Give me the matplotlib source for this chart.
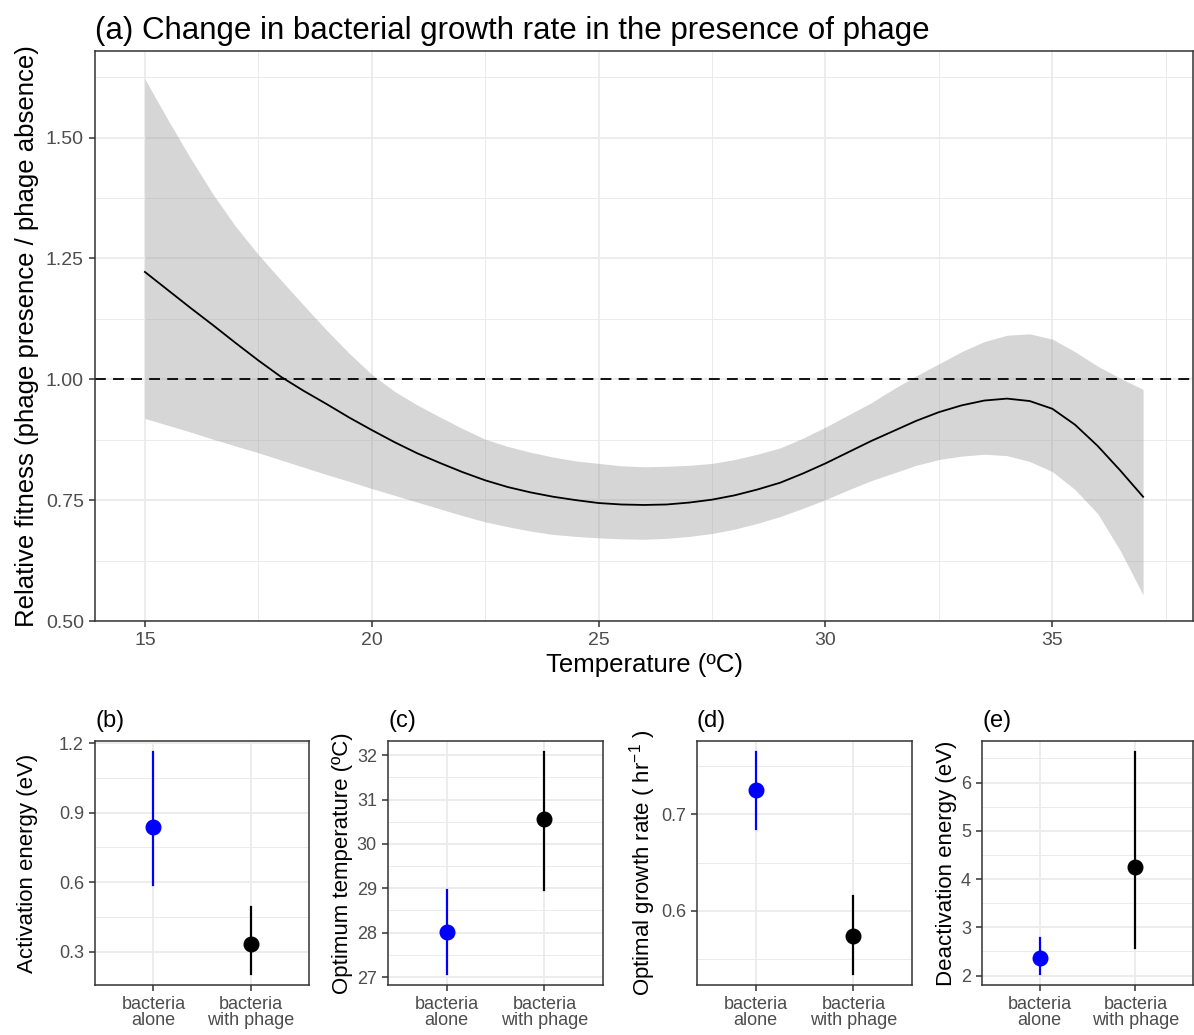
import numpy as np
import matplotlib
matplotlib.use("Agg")
import matplotlib.pyplot as plt
from matplotlib.ticker import FixedLocator

plt.rcParams['font.family'] = ['Liberation Sans', 'DejaVu Sans']
plt.rcParams['mathtext.fontset'] = 'custom'
plt.rcParams['mathtext.rm'] = 'Liberation Sans'
plt.rcParams['mathtext.it'] = 'Liberation Sans:italic'

# ---- panel (a): fitted relative fitness with confidence band ----
temp = [15, 15.5, 16, 16.5, 17, 17.5, 18, 18.5, 19, 19.5, 20, 20.5, 21, 21.5,
        22, 22.5, 23, 23.5, 24, 24.5, 25, 25.5, 26, 26.5, 27, 27.5, 28, 28.5,
        29, 29.5, 30, 30.5, 31, 31.5, 32, 32.5, 33, 33.5, 34, 34.5, 35, 35.5,
        36, 36.5, 37]
fit = [1.222, 1.185, 1.148, 1.112, 1.075, 1.039, 1.005, 0.976, 0.949, 0.921,
       0.895, 0.870, 0.847, 0.827, 0.808, 0.791, 0.777, 0.766, 0.757, 0.750,
       0.744, 0.741, 0.740, 0.741, 0.745, 0.751, 0.760, 0.772, 0.786, 0.805,
       0.826, 0.849, 0.872, 0.893, 0.914, 0.932, 0.946, 0.956, 0.960, 0.955,
       0.939, 0.906, 0.862, 0.811, 0.757]
upper = [1.621, 1.538, 1.458, 1.383, 1.316, 1.258, 1.205, 1.153, 1.102, 1.054,
         1.010, 0.975, 0.947, 0.922, 0.898, 0.876, 0.861, 0.849, 0.839, 0.831,
         0.826, 0.821, 0.819, 0.820, 0.822, 0.826, 0.834, 0.845, 0.858, 0.878,
         0.901, 0.926, 0.951, 0.980, 1.007, 1.032, 1.057, 1.078, 1.091, 1.094,
         1.083, 1.057, 1.027, 1.002, 0.979]
lower = [0.919, 0.905, 0.891, 0.876, 0.862, 0.848, 0.833, 0.818, 0.803, 0.789,
         0.774, 0.760, 0.746, 0.732, 0.718, 0.705, 0.695, 0.686, 0.679, 0.675,
         0.672, 0.670, 0.669, 0.671, 0.675, 0.681, 0.690, 0.702, 0.716, 0.733,
         0.751, 0.771, 0.790, 0.806, 0.822, 0.834, 0.841, 0.845, 0.842, 0.830,
         0.809, 0.772, 0.722, 0.645, 0.554]

# ---- panels (b)-(e): parameter estimates with intervals ----
groups = ['bacteria\nalone', 'bacteria\nwith phage']
group_colors = ['#0000FF', 'black']
act_energy = [0.84, 0.332]
act_lo = [0.59, 0.205]
act_hi = [1.161, 0.495]
topt = [28.02, 30.57]
topt_lo = [27.07, 28.96]
topt_hi = [28.97, 32.07]
rmax = [0.7245, 0.5745]
rmax_lo = [0.685, 0.535]
rmax_hi = [0.764, 0.6158]
deact = [2.36, 4.25]
deact_lo = [2.035, 2.58]
deact_hi = [2.775, 6.63]

W, H = 1194, 1035
fig = plt.figure(figsize=(W / 100, H / 100), dpi=100)


def px_axes(left, top, right, bottom):
    return fig.add_axes([left / W, 1 - bottom / H, (right - left) / W, (bottom - top) / H])


def style(ax, tick_size):
    for s in ax.spines.values():
        s.set_color('#333333')
        s.set_linewidth(1.1)
    ax.tick_params(axis='both', colors='#333333', labelcolor='#4D4D4D',
                   length=4.5, width=1.1, labelsize=tick_size)
    ax.tick_params(which='minor', length=0)
    ax.grid(which='major', color='#EBEBEB', linewidth=1.3)
    ax.grid(which='minor', color='#EBEBEB', linewidth=0.7)
    ax.set_axisbelow(True)


# panel (a)
ax = px_axes(95, 51, 1193, 621)
style(ax, 14)
ax.fill_between(temp, lower, upper, color='#999999', alpha=0.4, linewidth=0)
ax.plot(temp, fit, color='black', linewidth=1.3)
ax.axhline(1.0, color='black', linewidth=1.3, linestyle=(0, (6, 4)))
ax.set_xlim(13.9, 38.1)
ax.set_ylim(0.5, 1.679)
ax.set_xticks([15, 20, 25, 30, 35])
ax.set_yticks([0.5, 0.75, 1.0, 1.25, 1.5])
ax.set_yticklabels(['0.50', '0.75', '1.00', '1.25', '1.50'])
ax.xaxis.set_minor_locator(FixedLocator([17.5, 22.5, 27.5, 32.5, 37.5]))
ax.yaxis.set_minor_locator(FixedLocator([0.625, 0.875, 1.125, 1.375, 1.625]))
ax.set_xlabel('Temperature (ºC)', fontsize=18.5, labelpad=3)
ax.set_ylabel('Relative fitness (phage presence / phage absence)', fontsize=18.5, labelpad=5)
ax.set_title('(a) Change in bacterial growth rate in the presence of phage',
             loc='left', fontsize=22.5, pad=9)

panels = [
    ('(b)', 95, 309, act_energy, act_lo, act_hi, (0.157, 1.209),
     [0.3, 0.6, 0.9, 1.2], [0.45, 0.75, 1.05], 'Activation energy (eV)', 15),
    ('(c)', 388, 603, topt, topt_lo, topt_hi, (26.82, 32.32),
     [27, 28, 29, 30, 31, 32], [27.5, 28.5, 29.5, 30.5, 31.5], 'Optimum temperature (ºC)', 3),
    ('(d)', 697, 912, rmax, rmax_lo, rmax_hi, (0.5235, 0.7755),
     [0.6, 0.7], [0.55, 0.65, 0.75], 'Optimal growth rate ( hr$^{-1}$ )', 2),
    ('(e)', 982, 1193, deact, deact_lo, deact_hi, (1.805, 6.86),
     [2, 3, 4, 5, 6], [2.5, 3.5, 4.5, 5.5, 6.5], 'Deactivation energy (eV)', 3),
]

for tag, left, right, est, lo, hi, ylim, majors, minors, ylabel, lpad in panels:
    bx = px_axes(left, 741, right, 985)
    style(bx, 13)
    pos = np.arange(1, len(groups) + 1)
    for i in range(len(groups)):
        bx.plot([pos[i], pos[i]], [lo[i], hi[i]], color=group_colors[i], linewidth=1.6)
        bx.plot(pos[i], est[i], 'o', color=group_colors[i], markersize=10.5)
    bx.set_xlim(0.4, 2.6)
    bx.set_ylim(*ylim)
    bx.set_xticks(pos)
    bx.set_xticklabels(groups, linespacing=0.95)
    bx.set_yticks(majors)
    bx.yaxis.set_minor_locator(FixedLocator(minors))
    bx.set_ylabel(ylabel, fontsize=16, labelpad=lpad)
    bx.set_title(tag, loc='left', fontsize=17, pad=10)

fig.savefig('out.png', dpi=100)
